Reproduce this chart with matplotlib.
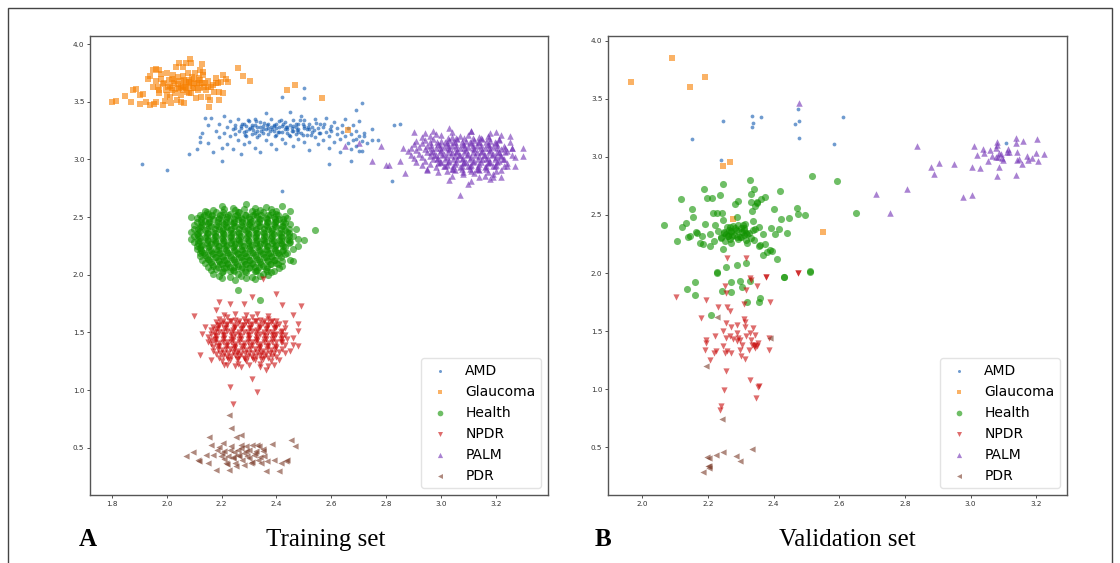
import numpy as np
import matplotlib
matplotlib.use("Agg")
import matplotlib.pyplot as plt
from matplotlib.patches import Rectangle

categories = ["AMD", "Glaucoma", "Health", "NPDR", "PALM", "PDR"]
markers = [".", "s", "o", "v", "^", "<"]
colors = ["#1058b0", "#f77f00", "#109300", "#c80a0a", "#712fb4", "#7a3a28"]
sizes = [30, 20, 26, 20, 22, 20]

# ---------------- Training set ----------------
amd_train = [
    (1.91,2.96),(2.00,2.91),(2.08,3.05),(2.42,2.73),(2.82,2.81),(2.83,3.30),(2.85,3.31),(2.75,3.17),(2.75,3.26),(2.77,3.17),
    (2.71,3.49),(2.69,3.43),(2.50,3.62),(2.50,3.53),(2.42,3.54),(2.59,2.96),(2.67,2.99),(2.71,3.07),(2.72,3.20),(2.69,3.18),
    (2.12,3.19),(2.12,3.15),(2.13,3.23),(2.11,3.09),(2.14,3.36),(2.15,3.30),(2.16,3.36),(2.15,3.14),(2.17,3.06),(2.18,3.25),
    (2.19,3.31),(2.19,3.19),(2.20,3.10),(2.20,2.99),(2.21,3.23),(2.21,3.38),(2.22,3.28),(2.22,3.13),
    (2.23,3.33),(2.23,3.20),(2.24,3.26),(2.24,3.09),(2.25,3.30),(2.25,3.22),(2.26,3.35),(2.26,3.17),(2.27,3.27),(2.27,3.05),
    (2.28,3.31),(2.28,3.24),(2.28,3.13),(2.29,3.29),(2.29,3.20),(2.30,3.33),(2.30,3.26),(2.30,3.15),
    (2.31,3.28),(2.31,3.22),(2.32,3.35),(2.32,3.30),(2.32,3.10),(2.33,3.25),(2.33,3.19),(2.34,3.28),(2.34,3.32),(2.34,3.06),
    (2.35,3.23),(2.35,3.29),(2.36,3.26),(2.36,3.17),(2.36,3.40),(2.37,3.31),(2.37,3.22),(2.38,3.28),(2.38,3.13),(2.38,3.35),
    (2.39,3.25),(2.39,3.30),(2.40,3.21),(2.40,3.27),(2.40,3.09),(2.41,3.33),(2.41,3.24),(2.42,3.29),(2.42,3.18),(2.43,3.26),
    (2.43,3.32),(2.43,3.14),(2.44,3.23),(2.44,3.28),(2.45,3.30),(2.45,3.20),(2.45,3.41),(2.46,3.25),(2.46,3.12),(2.46,3.34),
    (2.47,3.28),(2.47,3.22),(2.48,3.31),(2.48,3.26),(2.48,3.18),(2.49,3.38),(2.49,3.23),(2.50,3.29),(2.50,3.15),(2.50,3.34),
    (2.51,3.26),(2.51,3.21),(2.52,3.31),(2.52,3.08),(2.53,3.24),(2.53,3.28),(2.54,3.19),(2.54,3.35),(2.55,3.27),(2.55,3.13),
    (2.56,3.23),(2.56,3.31),(2.57,3.17),(2.57,3.28),(2.58,3.24),(2.58,3.36),(2.59,3.20),(2.59,3.10),(2.60,3.29),(2.60,3.25),
    (2.61,3.15),(2.61,3.32),(2.62,3.22),(2.62,3.27),(2.63,3.18),(2.63,3.06),(2.64,3.30),(2.64,3.24),
    (2.65,3.20),(2.65,3.35),(2.66,3.14),(2.66,3.27),(2.67,3.22),(2.67,3.09),(2.68,3.30),(2.68,3.17),(2.69,3.25),(2.69,3.12),
    (2.70,3.20),(2.70,3.07),(2.71,3.16),(2.72,3.23),(2.73,3.14),(2.70,3.33),
    (2.27,3.29),(2.29,3.25),(2.31,3.30),(2.33,3.28),(2.35,3.26),(2.37,3.27),(2.39,3.29),(2.41,3.28),(2.42,3.24),(2.44,3.26),
    (2.46,3.29),(2.48,3.24),(2.50,3.27),(2.52,3.26),(2.25,3.27),(2.32,3.23),(2.40,3.31),(2.47,3.31),
    (2.265,3.245),(2.305,3.275),(2.345,3.245),(2.385,3.265),(2.425,3.305),(2.455,3.275),(2.495,3.305),(2.535,3.255),
    (2.285,3.215),(2.325,3.335),(2.365,3.295),(2.405,3.235),(2.445,3.215),(2.485,3.345),(2.525,3.215),(2.575,3.305),
    (2.275,3.305),(2.315,3.255),(2.355,3.315),(2.395,3.205),(2.435,3.285),(2.475,3.255),(2.515,3.285),(2.555,3.225),
    (2.295,3.345),(2.335,3.215),(2.375,3.245),(2.415,3.345),(2.455,3.245),(2.495,3.215),(2.545,3.315),(2.595,3.265),
]

glaucoma_train = [
    (1.800,3.500),(1.816,3.506),(1.846,3.549),(1.870,3.500),(1.876,3.601),(1.886,3.607),(1.901,3.480),(1.903,3.558),
    (1.913,3.564),(1.925,3.500),(1.931,3.694),(1.937,3.471),(1.939,3.725),(1.949,3.775),(1.952,3.480),(1.959,3.780),
    (1.961,3.500),(1.967,3.630),(1.973,3.775),(1.973,3.572),(1.979,3.737),(1.985,3.653),(1.988,3.471),(1.992,3.509),
    (1.998,3.601),(2.000,3.751),(2.004,3.630),(2.007,3.688),(2.010,3.543),(2.016,3.491),(2.019,3.601),(2.022,3.731),
    (2.028,3.659),(2.034,3.803),(2.038,3.514),(2.040,3.717),(2.044,3.832),(2.046,3.616),(2.050,3.558),(2.052,3.500),
    (2.058,3.803),(2.061,3.688),(2.064,3.491),(2.068,3.630),(2.070,3.832),(2.074,3.587),(2.076,3.746),(2.080,3.673),
    (2.082,3.572),(2.086,3.870),(2.088,3.832),(2.091,3.717),(2.095,3.616),(2.101,3.659),(2.104,3.746),(2.107,3.529),
    (2.113,3.601),(2.116,3.702),(2.119,3.659),(2.121,3.775),(2.125,3.543),(2.128,3.824),(2.131,3.760),(2.133,3.731),
    (2.137,3.630),(2.141,3.659),(2.143,3.601),(2.149,3.543),(2.153,3.451),(2.158,3.514),(2.161,3.624),(2.167,3.645),
    (2.173,3.587),(2.179,3.702),(2.185,3.659),(2.189,3.514),(2.192,3.587),(2.198,3.673),(2.204,3.731),(2.206,3.572),
    (2.216,3.694),(2.222,3.673),(2.258,3.789),(2.279,3.725),(2.304,3.679),(2.438,3.601),(2.467,3.645),(2.567,3.532),
    (2.661,3.254),
    (1.99,3.66),(2.02,3.62),(2.05,3.68),(2.08,3.64),(2.03,3.58),(2.06,3.72),(2.10,3.70),(1.97,3.60),(2.00,3.56),
    (2.12,3.62),(2.06,3.60),(2.09,3.58),(2.15,3.68),(2.02,3.70),(1.96,3.68),
    (2.04,3.65),(2.07,3.67),(2.10,3.62),(2.01,3.64),(2.13,3.66),(2.05,3.63),(2.08,3.69),(2.11,3.65),
    (1.95,3.63),(1.98,3.70),(2.03,3.68),(2.06,3.64),(2.09,3.66),(2.12,3.69),(2.15,3.63),(2.18,3.66),(2.04,3.61),(2.07,3.62),
]

health_train = [
    (2.20,2.60),(2.29,2.61),(2.36,2.59),(2.42,2.60),(2.24,2.58),(2.32,2.58),(2.09,2.50),
    (2.14,2.55),(2.17,2.56),(2.21,2.57),(2.25,2.56),(2.28,2.57),(2.31,2.55),(2.34,2.56),(2.38,2.57),(2.40,2.55),(2.45,2.55),
    (2.12,2.52),(2.15,2.53),(2.18,2.54),(2.20,2.52),(2.23,2.53),(2.26,2.54),(2.29,2.52),(2.32,2.53),(2.35,2.54),(2.37,2.52),(2.40,2.53),(2.43,2.51),(2.44,2.49),
    (2.11,2.49),(2.13,2.50),(2.16,2.51),(2.19,2.49),(2.22,2.50),(2.25,2.51),(2.27,2.49),(2.30,2.50),(2.33,2.51),(2.36,2.49),(2.39,2.50),(2.41,2.48),
    (2.11,2.46),(2.14,2.47),(2.17,2.48),(2.20,2.46),(2.23,2.47),(2.26,2.48),(2.29,2.46),(2.31,2.47),(2.34,2.48),(2.37,2.46),(2.40,2.47),(2.43,2.45),
    (2.10,2.43),(2.13,2.44),(2.15,2.45),(2.18,2.43),(2.21,2.44),(2.24,2.45),(2.27,2.43),(2.30,2.44),(2.33,2.45),(2.36,2.43),(2.39,2.44),(2.42,2.42),(2.45,2.44),
    (2.10,2.40),(2.12,2.41),(2.16,2.42),(2.19,2.40),(2.22,2.41),(2.25,2.42),(2.28,2.40),(2.31,2.41),(2.34,2.42),(2.37,2.40),(2.40,2.41),(2.43,2.39),(2.47,2.40),
    (2.09,2.37),(2.12,2.38),(2.14,2.39),(2.17,2.37),(2.20,2.38),(2.23,2.39),(2.26,2.37),(2.29,2.38),(2.32,2.39),(2.35,2.37),(2.38,2.38),(2.41,2.36),(2.44,2.37),(2.54,2.39),
    (2.10,2.34),(2.11,2.35),(2.15,2.36),(2.18,2.34),(2.21,2.35),(2.24,2.36),(2.27,2.34),(2.30,2.35),(2.33,2.36),(2.36,2.34),(2.39,2.35),(2.42,2.33),(2.46,2.34),(2.48,2.31),
    (2.09,2.31),(2.12,2.32),(2.14,2.33),(2.17,2.31),(2.20,2.32),(2.23,2.33),(2.26,2.31),(2.29,2.32),(2.32,2.33),(2.35,2.31),(2.38,2.32),(2.41,2.30),(2.44,2.31),(2.50,2.30),
    (2.10,2.28),(2.12,2.29),(2.15,2.30),(2.18,2.28),(2.21,2.29),(2.24,2.30),(2.27,2.28),(2.30,2.29),(2.33,2.30),(2.36,2.28),(2.39,2.29),(2.42,2.27),(2.45,2.28),(2.48,2.25),
    (2.11,2.25),(2.13,2.26),(2.16,2.27),(2.19,2.25),(2.22,2.26),(2.25,2.27),(2.28,2.25),(2.31,2.26),(2.34,2.27),(2.37,2.25),(2.40,2.26),(2.43,2.24),(2.46,2.22),
    (2.11,2.22),(2.12,2.23),(2.15,2.24),(2.18,2.22),(2.21,2.23),(2.24,2.24),(2.27,2.22),(2.30,2.23),(2.33,2.24),(2.36,2.22),(2.39,2.23),(2.42,2.21),(2.44,2.19),
    (2.12,2.19),(2.13,2.20),(2.16,2.21),(2.19,2.19),(2.22,2.20),(2.25,2.21),(2.28,2.19),(2.31,2.20),(2.34,2.21),(2.37,2.19),(2.40,2.20),(2.43,2.18),
    (2.12,2.16),(2.14,2.17),(2.17,2.18),(2.20,2.16),(2.23,2.17),(2.26,2.18),(2.29,2.16),(2.32,2.17),(2.35,2.18),(2.38,2.16),(2.41,2.17),(2.45,2.13),
    (2.13,2.13),(2.15,2.14),(2.18,2.15),(2.21,2.13),(2.24,2.14),(2.27,2.15),(2.30,2.13),(2.33,2.14),(2.36,2.15),(2.39,2.13),(2.42,2.12),(2.46,2.12),
    (2.14,2.10),(2.16,2.11),(2.19,2.12),(2.22,2.10),(2.25,2.11),(2.28,2.12),(2.31,2.10),(2.34,2.11),(2.37,2.12),(2.40,2.10),(2.42,2.08),
    (2.15,2.07),(2.17,2.08),(2.20,2.09),(2.23,2.07),(2.26,2.08),(2.29,2.09),(2.32,2.07),(2.35,2.08),(2.38,2.09),(2.41,2.06),
    (2.16,2.04),(2.18,2.05),(2.21,2.06),(2.24,2.04),(2.27,2.05),(2.30,2.06),(2.33,2.04),(2.36,2.05),(2.39,2.03),
    (2.17,2.01),(2.20,2.02),(2.23,2.03),(2.26,2.01),(2.29,2.02),(2.32,2.03),(2.35,2.01),(2.38,2.02),
    (2.19,1.99),(2.23,1.98),(2.27,1.99),(2.29,1.97),(2.31,1.98),(2.34,1.99),(2.37,2.00),
    (2.26,1.87),(2.34,1.78),(2.25,1.95),(2.32,1.96),(2.20,1.97),
    # dense core
    (2.145,2.545),(2.205,2.545),(2.265,2.545),(2.325,2.545),(2.385,2.545),
    (2.135,2.515),(2.165,2.515),(2.195,2.515),(2.225,2.515),(2.255,2.515),(2.285,2.515),(2.315,2.515),(2.345,2.515),(2.375,2.515),(2.405,2.515),
    (2.125,2.485),(2.155,2.485),(2.185,2.485),(2.215,2.485),(2.245,2.485),(2.275,2.485),(2.305,2.485),(2.335,2.485),(2.365,2.485),(2.395,2.485),(2.425,2.485),
    (2.125,2.455),(2.155,2.455),(2.185,2.455),(2.215,2.455),(2.245,2.455),(2.275,2.455),(2.305,2.455),(2.335,2.455),(2.365,2.455),(2.395,2.455),(2.425,2.455),
    (2.125,2.425),(2.155,2.425),(2.185,2.425),(2.215,2.425),(2.245,2.425),(2.275,2.425),(2.305,2.425),(2.335,2.425),(2.365,2.425),(2.395,2.425),(2.425,2.425),
    (2.115,2.395),(2.145,2.395),(2.175,2.395),(2.205,2.395),(2.235,2.395),(2.265,2.395),(2.295,2.395),(2.325,2.395),(2.355,2.395),(2.385,2.395),(2.415,2.395),(2.445,2.395),
    (2.115,2.365),(2.145,2.365),(2.175,2.365),(2.205,2.365),(2.235,2.365),(2.265,2.365),(2.295,2.365),(2.325,2.365),(2.355,2.365),(2.385,2.365),(2.415,2.365),(2.445,2.365),
    (2.115,2.335),(2.145,2.335),(2.175,2.335),(2.205,2.335),(2.235,2.335),(2.265,2.335),(2.295,2.335),(2.325,2.335),(2.355,2.335),(2.385,2.335),(2.415,2.335),(2.445,2.335),
    (2.115,2.305),(2.145,2.305),(2.175,2.305),(2.205,2.305),(2.235,2.305),(2.265,2.305),(2.295,2.305),(2.325,2.305),(2.355,2.305),(2.385,2.305),(2.415,2.305),(2.445,2.305),
    (2.115,2.275),(2.145,2.275),(2.175,2.275),(2.205,2.275),(2.235,2.275),(2.265,2.275),(2.295,2.275),(2.325,2.275),(2.355,2.275),(2.385,2.275),(2.415,2.275),(2.445,2.275),
    (2.125,2.245),(2.155,2.245),(2.185,2.245),(2.215,2.245),(2.245,2.245),(2.275,2.245),(2.305,2.245),(2.335,2.245),(2.365,2.245),(2.395,2.245),(2.425,2.245),
    (2.125,2.215),(2.155,2.215),(2.185,2.215),(2.215,2.215),(2.245,2.215),(2.275,2.215),(2.305,2.215),(2.335,2.215),(2.365,2.215),(2.395,2.215),(2.425,2.215),
    (2.135,2.185),(2.165,2.185),(2.195,2.185),(2.225,2.185),(2.255,2.185),(2.285,2.185),(2.315,2.185),(2.345,2.185),(2.375,2.185),(2.405,2.185),
    (2.145,2.155),(2.175,2.155),(2.205,2.155),(2.235,2.155),(2.265,2.155),(2.295,2.155),(2.325,2.155),(2.355,2.155),(2.385,2.155),(2.415,2.155),
    (2.155,2.125),(2.185,2.125),(2.215,2.125),(2.245,2.125),(2.275,2.125),(2.305,2.125),(2.335,2.125),(2.365,2.125),(2.395,2.125),
    (2.165,2.095),(2.195,2.095),(2.225,2.095),(2.255,2.095),(2.285,2.095),(2.315,2.095),(2.345,2.095),(2.375,2.095),(2.405,2.095),
    (2.185,2.065),(2.215,2.065),(2.245,2.065),(2.275,2.065),(2.305,2.065),(2.335,2.065),(2.365,2.065),
    (2.205,2.035),(2.245,2.035),(2.285,2.035),(2.325,2.035),(2.365,2.035),
]

npdr_train = [
    (2.21,1.65),(2.25,1.66),(2.29,1.65),(2.33,1.66),(2.37,1.64),
    (2.19,1.62),(2.22,1.63),(2.25,1.61),(2.28,1.62),(2.31,1.63),(2.34,1.61),(2.37,1.62),(2.40,1.60),
    (2.18,1.59),(2.20,1.58),(2.23,1.60),(2.26,1.58),(2.29,1.59),(2.32,1.60),(2.35,1.58),(2.38,1.59),(2.41,1.57),
    (2.17,1.55),(2.19,1.56),(2.22,1.57),(2.25,1.55),(2.28,1.56),(2.31,1.57),(2.34,1.55),(2.37,1.56),(2.40,1.55),(2.43,1.54),
    (2.16,1.52),(2.18,1.53),(2.21,1.54),(2.24,1.52),(2.27,1.53),(2.30,1.54),(2.33,1.52),(2.36,1.53),(2.39,1.54),(2.42,1.51),
    (2.16,1.49),(2.19,1.50),(2.22,1.51),(2.25,1.49),(2.28,1.50),(2.31,1.51),(2.34,1.49),(2.37,1.50),(2.40,1.49),(2.43,1.48),
    (2.15,1.46),(2.18,1.47),(2.21,1.48),(2.24,1.46),(2.27,1.47),(2.30,1.48),(2.33,1.46),(2.36,1.47),(2.39,1.48),(2.42,1.45),
    (2.16,1.43),(2.18,1.44),(2.21,1.45),(2.24,1.43),(2.27,1.44),(2.30,1.45),(2.33,1.43),(2.36,1.44),(2.39,1.45),(2.42,1.42),
    (2.16,1.40),(2.19,1.41),(2.22,1.42),(2.25,1.40),(2.28,1.41),(2.31,1.42),(2.34,1.40),(2.37,1.41),(2.40,1.42),(2.43,1.39),
    (2.17,1.37),(2.19,1.38),(2.22,1.39),(2.25,1.37),(2.28,1.38),(2.31,1.39),(2.34,1.37),(2.37,1.38),(2.40,1.37),(2.42,1.36),
    (2.17,1.34),(2.20,1.35),(2.23,1.36),(2.26,1.34),(2.29,1.35),(2.32,1.36),(2.35,1.34),(2.38,1.35),(2.41,1.33),
    (2.18,1.31),(2.21,1.32),(2.24,1.33),(2.27,1.31),(2.30,1.32),(2.33,1.33),(2.36,1.31),(2.39,1.32),(2.43,1.32),
    (2.19,1.28),(2.22,1.29),(2.25,1.30),(2.28,1.28),(2.31,1.29),(2.34,1.30),(2.37,1.28),(2.40,1.29),
    (2.20,1.25),(2.23,1.26),(2.26,1.27),(2.29,1.25),(2.32,1.26),(2.35,1.27),(2.38,1.25),
    (2.22,1.22),(2.26,1.23),(2.30,1.22),(2.34,1.23),(2.37,1.21),
    (2.10,1.64),(2.12,1.30),(2.13,1.49),(2.16,1.26),(2.19,1.76),(2.18,1.69),(2.23,1.75),(2.28,1.75),(2.31,1.81),(2.35,1.96),
    (2.40,1.83),(2.42,1.74),(2.46,1.65),(2.49,1.73),(2.48,1.57),(2.48,1.51),(2.45,1.34),(2.48,1.38),(2.46,1.45),(2.43,1.58),
    (2.44,1.44),(2.41,1.26),(2.39,1.22),(2.36,1.17),(2.34,1.20),(2.31,1.10),(2.33,0.98),(2.23,1.03),(2.24,0.88),(2.27,1.20),
    (2.25,1.21),(2.21,1.22),(2.14,1.55),(2.15,1.42),(2.46,1.39),
    # dense core
    (2.205,1.595),(2.235,1.595),(2.265,1.595),(2.295,1.595),(2.325,1.595),(2.355,1.595),(2.385,1.595),
    (2.185,1.565),(2.215,1.565),(2.245,1.565),(2.275,1.565),(2.305,1.565),(2.335,1.565),(2.365,1.565),(2.395,1.565),
    (2.185,1.535),(2.215,1.535),(2.245,1.535),(2.275,1.535),(2.305,1.535),(2.335,1.535),(2.365,1.535),(2.395,1.535),
    (2.175,1.505),(2.205,1.505),(2.235,1.505),(2.265,1.505),(2.295,1.505),(2.325,1.505),(2.355,1.505),(2.385,1.505),(2.415,1.505),
    (2.175,1.475),(2.205,1.475),(2.235,1.475),(2.265,1.475),(2.295,1.475),(2.325,1.475),(2.355,1.475),(2.385,1.475),(2.415,1.475),
    (2.175,1.445),(2.205,1.445),(2.235,1.445),(2.265,1.445),(2.295,1.445),(2.325,1.445),(2.355,1.445),(2.385,1.445),(2.415,1.445),
    (2.175,1.415),(2.205,1.415),(2.235,1.415),(2.265,1.415),(2.295,1.415),(2.325,1.415),(2.355,1.415),(2.385,1.415),(2.415,1.415),
    (2.185,1.385),(2.215,1.385),(2.245,1.385),(2.275,1.385),(2.305,1.385),(2.335,1.385),(2.365,1.385),(2.395,1.385),
    (2.185,1.355),(2.215,1.355),(2.245,1.355),(2.275,1.355),(2.305,1.355),(2.335,1.355),(2.365,1.355),(2.395,1.355),
    (2.195,1.325),(2.225,1.325),(2.255,1.325),(2.285,1.325),(2.315,1.325),(2.345,1.325),(2.375,1.325),
    (2.205,1.295),(2.235,1.295),(2.265,1.295),(2.295,1.295),(2.325,1.295),(2.355,1.295),(2.385,1.295),
    (2.225,1.265),(2.255,1.265),(2.285,1.265),(2.315,1.265),(2.345,1.265),
]

palm_train = [
    (2.98,3.22),(3.04,3.24),(3.11,3.25),(3.18,3.23),(3.22,3.21),
    (2.93,3.19),(2.96,3.20),(3.00,3.21),(3.04,3.19),(3.07,3.20),(3.10,3.21),(3.14,3.19),(3.17,3.20),(3.21,3.18),
    (2.91,3.16),(2.94,3.17),(2.97,3.18),(3.00,3.16),(3.03,3.17),(3.06,3.18),(3.09,3.16),(3.12,3.17),(3.15,3.18),(3.18,3.16),(3.21,3.17),(3.25,3.15),
    (2.90,3.13),(2.93,3.14),(2.96,3.15),(2.99,3.13),(3.02,3.14),(3.05,3.15),(3.08,3.13),(3.11,3.14),(3.14,3.15),(3.17,3.13),(3.20,3.14),(3.23,3.12),
    (2.89,3.10),(2.92,3.11),(2.95,3.12),(2.98,3.10),(3.01,3.11),(3.04,3.12),(3.07,3.10),(3.10,3.11),(3.13,3.12),(3.16,3.10),(3.19,3.11),(3.22,3.09),(3.26,3.10),
    (2.88,3.07),(2.91,3.08),(2.94,3.09),(2.97,3.07),(3.00,3.08),(3.03,3.09),(3.06,3.07),(3.09,3.08),(3.12,3.09),(3.15,3.07),(3.18,3.08),(3.21,3.06),(3.24,3.07),
    (2.89,3.04),(2.92,3.05),(2.95,3.06),(2.98,3.04),(3.01,3.05),(3.04,3.06),(3.07,3.04),(3.10,3.05),(3.13,3.06),(3.16,3.04),(3.19,3.05),(3.22,3.03),(3.26,3.04),
    (2.90,3.01),(2.93,3.02),(2.96,3.03),(2.99,3.01),(3.02,3.02),(3.05,3.03),(3.08,3.01),(3.11,3.02),(3.14,3.03),(3.17,3.01),(3.20,3.02),(3.23,3.00),
    (2.91,2.98),(2.94,2.99),(2.97,3.00),(3.00,2.98),(3.03,2.99),(3.06,3.00),(3.09,2.98),(3.12,2.99),(3.15,3.00),(3.18,2.98),(3.21,2.99),(3.24,2.97),
    (2.93,2.95),(2.96,2.96),(2.99,2.97),(3.02,2.95),(3.05,2.96),(3.08,2.97),(3.11,2.95),(3.14,2.96),(3.17,2.97),(3.20,2.95),(3.23,2.94),
    (2.95,2.92),(2.98,2.93),(3.01,2.94),(3.04,2.92),(3.07,2.93),(3.10,2.94),(3.13,2.92),(3.16,2.93),(3.19,2.94),(3.22,2.91),
    (2.99,2.89),(3.02,2.90),(3.05,2.91),(3.08,2.89),(3.11,2.90),(3.14,2.91),(3.17,2.89),(3.20,2.90),
    (3.04,2.86),(3.08,2.87),(3.12,2.88),(3.16,2.86),(3.19,2.87),
    (2.65,3.12),(2.70,3.14),(2.75,2.99),(2.78,3.12),(2.80,2.95),(2.81,2.95),(2.85,2.99),(2.86,3.10),(2.87,2.88),(2.90,3.24),
    (2.95,2.91),(3.03,3.27),(3.07,2.69),(3.11,3.25),(3.03,2.82),(3.10,2.79),(3.19,2.85),(3.20,3.24),(3.25,3.20),(3.26,3.10),
    (3.27,2.94),(3.24,2.94),(3.30,3.10),(3.30,3.03),(3.27,3.02),(3.22,2.85),(3.18,2.83),(3.14,2.85),(3.11,2.81),(2.97,3.25),(2.94,3.23),
    # dense core
    (3.025,3.185),(3.055,3.185),(3.085,3.185),(3.115,3.185),(3.145,3.185),(3.175,3.185),
    (2.985,3.155),(3.015,3.155),(3.045,3.155),(3.075,3.155),(3.105,3.155),(3.135,3.155),(3.165,3.155),(3.195,3.155),
    (2.965,3.125),(2.995,3.125),(3.025,3.125),(3.055,3.125),(3.085,3.125),(3.115,3.125),(3.145,3.125),(3.175,3.125),(3.205,3.125),
    (2.965,3.095),(2.995,3.095),(3.025,3.095),(3.055,3.095),(3.085,3.095),(3.115,3.095),(3.145,3.095),(3.175,3.095),(3.205,3.095),(3.235,3.095),
    (2.965,3.065),(2.995,3.065),(3.025,3.065),(3.055,3.065),(3.085,3.065),(3.115,3.065),(3.145,3.065),(3.175,3.065),(3.205,3.065),(3.235,3.065),
    (2.975,3.035),(3.005,3.035),(3.035,3.035),(3.065,3.035),(3.095,3.035),(3.125,3.035),(3.155,3.035),(3.185,3.035),(3.215,3.035),
    (2.985,3.005),(3.015,3.005),(3.045,3.005),(3.075,3.005),(3.105,3.005),(3.135,3.005),(3.165,3.005),(3.195,3.005),(3.225,3.005),
    (2.995,2.975),(3.025,2.975),(3.055,2.975),(3.085,2.975),(3.115,2.975),(3.145,2.975),(3.175,2.975),(3.205,2.975),
    (3.015,2.945),(3.045,2.945),(3.075,2.945),(3.105,2.945),(3.135,2.945),(3.165,2.945),(3.195,2.945),
    (3.045,2.915),(3.075,2.915),(3.105,2.915),(3.135,2.915),(3.165,2.915),
]

pdr_train = [
    (2.228,0.783),(2.233,0.668),(2.153,0.595),(2.252,0.595),(2.270,0.610),(2.070,0.431),(2.095,0.460),(2.113,0.396),
    (2.119,0.382),(2.143,0.439),(2.149,0.367),(2.161,0.526),(2.179,0.309),(2.182,0.483),(2.198,0.425),(2.204,0.540),
    (2.210,0.468),(2.216,0.367),(2.222,0.431),(2.228,0.309),(2.233,0.511),(2.240,0.411),(2.246,0.460),(2.252,0.338),
    (2.258,0.483),(2.264,0.425),(2.270,0.526),(2.276,0.390),(2.282,0.454),(2.288,0.511),(2.294,0.425),(2.300,0.483),
    (2.306,0.367),(2.312,0.526),(2.318,0.440),(2.325,0.468),(2.331,0.396),(2.337,0.511),(2.343,0.367),(2.349,0.468),
    (2.355,0.431),(2.361,0.295),(2.367,0.382),(2.385,0.534),(2.391,0.396),(2.409,0.295),(2.415,0.367),(2.433,0.382),
    (2.440,0.390),(2.452,0.563),(2.468,0.511),
    (2.20,0.45),(2.23,0.48),(2.26,0.44),(2.29,0.47),(2.32,0.45),(2.35,0.49),(2.21,0.40),(2.27,0.50),(2.30,0.41),
    (2.24,0.42),(2.33,0.52),(2.19,0.51),(2.25,0.37),(2.31,0.38),(2.28,0.35),(2.22,0.36),(2.34,0.42),(2.17,0.44),
]

# ---------------- Validation set ----------------
amd_val = [
    (2.150,3.153),(2.245,3.310),(2.334,3.350),(2.336,3.290),(2.334,3.256),(2.362,3.345),(2.464,3.285),
    (2.473,3.408),(2.476,3.305),(2.476,3.162),(2.584,3.113),(2.612,3.339),(2.238,2.970),(3.107,3.119),
]

glaucoma_val = [
    (1.965,3.648),(2.091,3.851),(2.144,3.605),(2.191,3.688),(2.245,2.921),(2.266,2.956),(2.276,2.461),(2.549,2.352),
]

health_val = [
    (2.067,2.415),(2.104,2.272),(2.116,2.638),(2.122,2.398),(2.132,2.432),(2.139,2.312),(2.152,2.552),(2.154,2.484),
    (2.144,2.323),(2.163,2.352),(2.167,2.346),(2.175,2.255),(2.180,2.321),(2.185,2.249),(2.187,2.724),(2.190,2.426),
    (2.197,2.650),(2.205,2.335),(2.207,2.232),(2.213,2.650),(2.214,2.518),(2.217,2.278),(2.221,2.415),(2.226,2.518),
    (2.231,2.358),(2.236,2.675),(2.238,2.303),(2.242,2.518),(2.244,2.203),(2.245,2.764),(2.245,2.455),(2.248,2.341),
    (2.251,2.272),(2.256,2.335),(2.259,2.398),(2.261,2.318),(2.264,2.369),(2.266,2.398),(2.266,2.289),(2.271,2.358),
    (2.271,2.255),(2.274,2.323),(2.276,2.404),(2.281,2.386),(2.281,2.598),(2.284,2.369),(2.287,2.312),(2.291,2.621),
    (2.289,2.484),(2.292,2.412),(2.297,2.306),(2.302,2.355),(2.305,2.412),(2.309,2.326),(2.309,2.386),(2.312,2.418),
    (2.315,2.283),(2.317,2.341),(2.319,2.255),(2.325,2.346),(2.327,2.804),(2.330,2.684),(2.332,2.610),(2.334,2.538),
    (2.336,2.369),(2.337,2.449),(2.339,2.721),(2.340,2.283),(2.342,2.383),(2.343,2.575),(2.348,2.604),(2.350,2.615),
    (2.354,2.398),(2.356,2.232),(2.358,2.240),(2.360,2.638),(2.368,2.152),(2.373,2.655),(2.368,2.335),(2.374,2.249),
    (2.380,2.180),(2.388,2.198),(2.393,2.386),(2.396,2.192),(2.400,2.552),(2.403,2.332),(2.409,2.117),(2.415,2.381),
    (2.419,2.710),(2.423,2.467),(2.431,1.963),(2.440,2.346),(2.446,2.472),(2.470,2.564),(2.475,2.507),(2.495,2.498),
    (2.518,2.833),(2.593,2.795),(2.652,2.515),(2.511,2.017),(2.226,2.003),(2.256,2.055),(2.287,2.069),(2.317,2.083),
    (2.137,1.860),(2.160,1.920),(2.161,1.811),(2.210,1.639),(2.226,2.011),(2.243,1.846),(2.269,1.920),(2.269,1.837),
    (2.297,1.934),(2.304,1.883),(2.320,1.754),(2.327,1.934),(2.355,1.748),(2.359,1.788),(2.432,1.963),(2.512,2.011),
    (2.28,2.33),(2.29,2.36),(2.30,2.31),(2.27,2.35),(2.31,2.37),(2.26,2.32),(2.29,2.29),(2.32,2.34),(2.25,2.35),
    (2.33,2.30),(2.24,2.31),(2.30,2.39),
]

npdr_val = [
    (2.102,1.797),(2.193,1.768),(2.177,1.617),(2.229,1.711),(2.251,1.888),(2.256,1.825),(2.259,1.705),(2.268,1.677),
    (2.254,1.574),(2.244,1.505),(2.256,1.445),(2.266,1.454),(2.271,1.534),(2.287,1.554),(2.287,1.483),(2.276,1.431),
    (2.292,1.440),(2.297,1.425),(2.302,1.382),(2.309,1.603),(2.312,1.582),(2.313,1.534),(2.317,1.454),(2.327,1.483),
    (2.332,1.425),(2.337,1.525),(2.342,1.468),(2.348,1.368),(2.353,1.402),(2.348,1.888),(2.330,1.940),(2.317,1.854),
    (2.310,1.734),(2.339,1.374),(2.221,1.454),(2.224,1.331),(2.244,1.368),(2.251,1.311),(2.258,1.325),(2.271,1.316),
    (2.287,1.411),(2.297,1.339),(2.299,1.282),(2.314,1.259),(2.325,1.339),(2.333,1.382),(2.343,1.351),(2.344,1.382),
    (2.195,1.425),(2.193,1.397),(2.205,1.253),(2.190,1.339),(2.217,1.316),(2.390,1.748),(2.386,1.440),(2.385,1.339),
    (2.376,1.969),(2.473,1.997),(2.327,1.076),(2.355,1.024),(2.353,1.019),(2.345,0.925),(2.249,0.996),(2.239,0.859),
    (2.236,0.819),(2.254,1.153),(2.258,2.129),(2.315,2.129),(2.376,1.963),(2.473,2.000),(2.327,1.954),
]

palm_val = [
    (2.478,3.462),(2.837,3.093),(2.880,2.916),(2.888,2.853),(2.905,2.950),(2.949,2.936),(3.003,2.916),(3.029,2.907),
    (3.010,3.096),(3.020,3.019),(3.039,3.064),(3.042,3.033),(3.059,3.056),(3.053,2.967),(3.064,3.004),(3.077,2.999),
    (3.081,3.127),(3.080,3.104),(3.077,3.073),(3.087,3.036),(3.084,2.999),(3.097,2.993),(3.100,2.976),(3.093,3.021),
    (3.110,3.039),(3.113,3.070),(3.118,3.044),(3.087,2.913),(3.081,2.838),(3.138,3.159),(3.140,3.119),(3.160,3.136),
    (3.143,3.041),(3.142,2.973),(3.147,2.981),(3.158,2.941),(3.172,3.010),(3.174,2.970),(3.188,2.993),(3.203,3.150),
    (3.201,3.033),(3.207,2.961),(3.223,3.027),(3.140,2.844),(2.976,2.652),(3.005,2.672),(2.806,2.721),(2.755,2.515),
    (2.711,2.678),
]

pdr_val = [
    (2.226,1.626),(2.195,1.201),(2.388,1.445),(2.241,0.744),(2.185,0.291),(2.197,0.416),(2.203,0.408),(2.224,0.437),
    (2.244,0.459),(2.285,0.428),(2.297,0.385),(2.335,0.482),(2.202,0.343),(2.203,0.320),(2.200,0.337),
]

train_sets = [amd_train, glaucoma_train, health_train, npdr_train, palm_train, pdr_train]
val_sets = [amd_val, glaucoma_val, health_val, npdr_val, palm_val, pdr_val]

x_ticks_train = [1.8, 2.0, 2.2, 2.4, 2.6, 2.8, 3.0, 3.2]
x_ticks_val = [2.0, 2.2, 2.4, 2.6, 2.8, 3.0, 3.2]
y_ticks = [0.5, 1.0, 1.5, 2.0, 2.5, 3.0, 3.5, 4.0]

W, H = 1120, 563
fig = plt.figure(figsize=(W / 100, H / 100), dpi=100)

ax1 = fig.add_axes([90 / W, 1 - 495 / H, 458 / W, 459 / H])
ax2 = fig.add_axes([608 / W, 1 - 495 / H, 459 / W, 459 / H])


def draw(ax, sets, xticks, xlim, ylim):
    for name, pts, m, c, s in zip(categories, sets, markers, colors, sizes):
        arr = np.array(pts)
        ax.scatter(arr[:, 0], arr[:, 1], marker=m, c=c, s=s, alpha=0.6,
                   linewidths=0, label=name)
    ax.set_xlim(*xlim)
    ax.set_ylim(*ylim)
    ax.set_xticks(xticks)
    ax.set_yticks(y_ticks)
    ax.set_xticklabels([f"{v:.1f}" for v in xticks])
    ax.set_yticklabels([f"{v:.1f}" for v in y_ticks])
    ax.tick_params(labelsize=5.2, length=2.5, width=0.6, pad=1.5, colors="#333333")
    for sp in ax.spines.values():
        sp.set_color("#555555")
        sp.set_linewidth(1.0)
    leg = ax.legend(loc="lower right", fontsize=10, frameon=True,
                    borderaxespad=0.5, handletextpad=0.8, labelspacing=0.5,
                    markerscale=0.8)
    leg.get_frame().set_edgecolor("#dddddd")


draw(ax1, train_sets, x_ticks_train, (1.72, 3.39), (0.09, 4.07))
draw(ax2, val_sets, x_ticks_val, (1.895, 3.294), (0.09, 4.04))

serif = ["Liberation Serif", "DejaVu Serif"]
fig.text(88 / W, 1 - 540 / H, "A", family=serif, fontsize=18, fontweight="bold",
         ha="center", va="center")
fig.text(326 / W, 1 - 540 / H, "Training set", family=serif, fontsize=18,
         ha="center", va="center")
fig.text(603 / W, 1 - 540 / H, "B", family=serif, fontsize=18, fontweight="bold",
         ha="center", va="center")
fig.text(847 / W, 1 - 540 / H, "Validation set", family=serif, fontsize=18,
         ha="center", va="center")

fig.add_artist(Rectangle((8 / W, -0.02), (1112 - 8) / W, 1 - 8 / H + 0.02,
                         transform=fig.transFigure, fill=False,
                         edgecolor="#444444", linewidth=1.0))

fig.savefig("out.png", dpi=100)
